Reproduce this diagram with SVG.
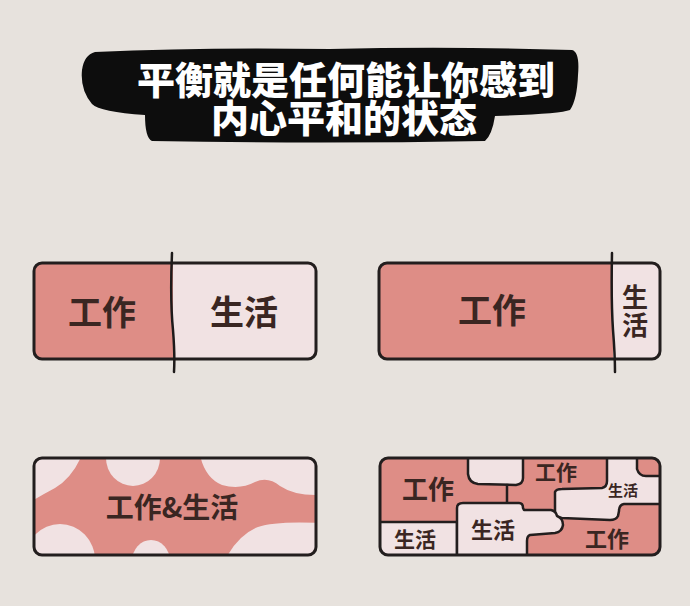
<svg xmlns="http://www.w3.org/2000/svg" width="690" height="606" viewBox="0 0 690 606">
<style>
.bg{fill:#e7e2dd}
.frame{fill:none;stroke:#231e1e;stroke-width:3}
.sal{fill:#de8d86}
.lt{fill:#f1e2e3}
.piece{fill:#f1e2e3;stroke:#231e1e;stroke-width:2.5;stroke-linejoin:round}
.ln{fill:none;stroke:#231e1e;stroke-width:2.5;stroke-linecap:round}
.div{fill:none;stroke:#1e1a1a;stroke-width:2.5;stroke-linecap:round}
.t{font-family:"Noto Sans CJK SC","Noto Sans",sans-serif;font-weight:700;fill:#3a2622;text-anchor:middle}
.title{font-family:"Noto Sans CJK SC","Noto Sans",sans-serif;font-weight:900;fill:#ffffff;text-anchor:middle;font-size:38px}
</style>
<defs>
<clipPath id="c3"><rect x="34" y="458" width="282" height="97" rx="8"/></clipPath>
<clipPath id="c4"><rect x="380" y="458" width="280" height="97" rx="8"/></clipPath>
</defs>
<rect class="bg" x="0" y="0" width="690" height="606"/>

<g id="title">
<path fill="#0d0d0d" d="M 95 52 Q 200 47 330 49 Q 450 46 572 50 Q 580 52 578 75 Q 577 100 570 110 Q 560 114 495 116 Q 492 135 485 141 Q 320 144 152 141 Q 145 138 145 115 Q 100 112 92 104 Q 80 90 82 70 Q 84 55 95 52 Z"/>
<text class="title"><tspan x="346" y="94">平衡就是任何能让你感到</tspan><tspan x="344" y="132">内心平和的状态</tspan></text>
</g>

<g id="panel1">
<rect class="sal" x="34" y="263" width="140" height="96" rx="8"/>
<rect class="sal" x="100" y="263" width="74" height="96"/>
<rect class="lt" x="173" y="263" width="143" height="96" rx="8"/>
<rect class="lt" x="173" y="263" width="70" height="96"/>
<rect class="frame" x="34" y="263" width="282" height="96" rx="8"/>
<path class="div" d="M 172 253 Q 170 300 173 330 Q 175 355 174 372"/>
<text class="t" x="102" y="325" font-size="34">工作</text>
<text class="t" x="244" y="325" font-size="34">生活</text>
</g>

<g id="panel2">
<rect class="sal" x="379" y="263" width="240" height="96" rx="8"/>
<rect class="lt" x="613" y="263" width="47" height="96" rx="8"/>
<rect class="lt" x="613" y="263" width="20" height="96"/>
<rect class="frame" x="379" y="263" width="281" height="96" rx="8"/>
<path class="div" d="M 612 253 Q 611 300 613 330 Q 615 355 615 372"/>
<text class="t" x="492" y="323" font-size="34">工作</text>
<text class="t" x="635" y="312" font-size="26" style="writing-mode:vertical-rl" letter-spacing="2">生活</text>
</g>

<g id="panel3">
<g clip-path="url(#c3)">
<rect class="sal" x="34" y="458" width="282" height="97"/>
<path class="lt" d="M 30 455 L 82 455 Q 72 478 55 488 Q 42 495 30 502 Z"/>
<ellipse class="lt" cx="133" cy="458" rx="27" ry="28"/>
<path class="lt" d="M 200 455 Q 205 478 222 485 Q 240 490 255 482 Q 268 476 280 486 Q 295 496 320 495 L 320 455 Z"/>
<ellipse class="lt" cx="60" cy="560" rx="35" ry="36"/>
<ellipse class="lt" cx="151" cy="561" rx="19" ry="21"/>
<path class="lt" d="M 225 560 Q 238 535 258 527 Q 275 521 320 523 L 320 560 Z"/>
</g>
<rect class="frame" x="34" y="458" width="282" height="97" rx="8"/>
<text class="t" x="172" y="518" font-size="28">工作&amp;生活</text>
</g>

<g id="panel4">
<g clip-path="url(#c4)">
<rect class="sal" x="380" y="458" width="280" height="97"/>
<path class="piece" d="M 468 456 L 468 474 Q 469 483 478 484 L 516 485 Q 523 484 523 478 L 523 456 Z"/>
<path class="ln" d="M 507 485 L 507 503"/>
<path class="piece" d="M 378 522 L 457 522 L 457 557 L 378 557 Z"/>
<path class="piece" d="M 555 492 Q 556 489 562 489 L 602 488 Q 607 487 607 481 L 607 456 L 637 456 L 637 469 Q 639 476 646 476 L 662 476 L 662 504 L 624 504 Q 619 505 619 511 L 618 516 Q 616 520 610 520 L 562 518 Q 555 517 555 512 Z"/>
<path class="piece" d="M 457 557 L 457 508 Q 457 503 463 503 L 519 503 Q 523 503 523 508 L 524 510 L 551 510 Q 556 511 557 516 Q 563 518 563 525 Q 562 532 555 533 L 530 535 Q 527 536 527 541 L 527 557 Z"/>
</g>
<rect class="frame" x="380" y="458" width="280" height="97" rx="8"/>
<text class="t" x="428" y="499" font-size="26">工作</text>
<text class="t" x="556" y="480" font-size="21">工作</text>
<text class="t" x="623" y="496" font-size="15">生活</text>
<text class="t" x="493" y="538" font-size="22">生活</text>
<text class="t" x="415" y="547" font-size="21">生活</text>
<text class="t" x="607" y="547" font-size="22">工作</text>
</g>
</svg>
